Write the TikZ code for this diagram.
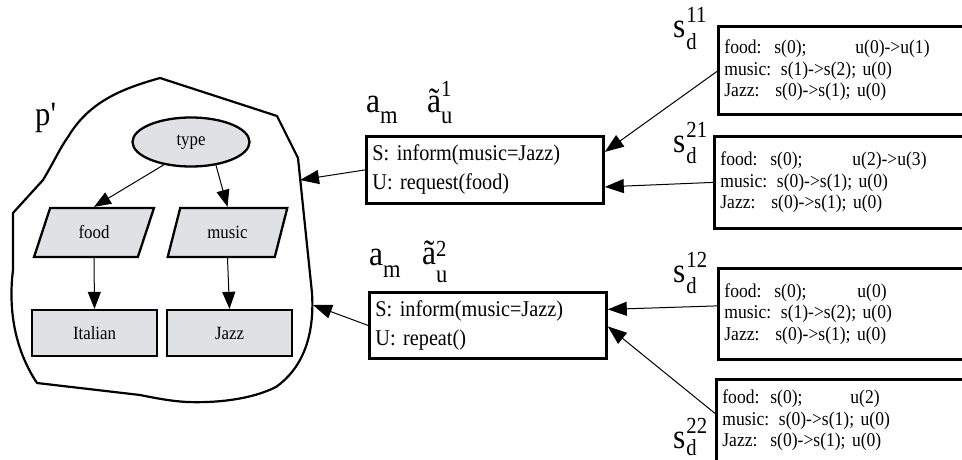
\documentclass[tikz,border=0pt]{standalone}
\usepackage{fontspec}
\setmainfont{Liberation Serif}[FakeStretch=0.9]
\newfontfamily\pfont{Liberation Serif}[FakeStretch=0.9]
\usetikzlibrary{arrows.meta,shapes.geometric}
\definecolor{fillgray}{RGB}{224,225,228}
\newcommand\lblbig{\fontsize{35}{35}\selectfont}
\newcommand\lblscr{\fontsize{23}{23}\selectfont}
\newcommand\lblsub{\fontsize{25}{25}\selectfont}
\tikzset{
  conn/.style={line width=1pt, -{Triangle[length=19pt,width=14pt]}},
  iconn/.style={line width=1pt, -{Triangle[length=17pt,width=13pt]}},
  bigbox/.style={draw, line width=2.8pt, rectangle, anchor=north west, inner xsep=6pt, inner ysep=0pt,
    text width=225pt, minimum width=237pt, align=left, font=\fontsize{22.5}{29}\selectfont},
  sbox/.style={draw, line width=2.8pt, rectangle, anchor=north west, inner xsep=6pt, inner ysep=0pt,
    text width=280pt, align=left, font=\fontsize{19.5}{21.5}\selectfont},
  gshape/.style={draw, line width=2.3pt, fill=fillgray, inner sep=0pt, font=\fontsize{18.7}{20}\selectfont},
  lbl/.style={anchor=base west, inner sep=0pt, font=\lblbig},
  blob/.style={line width=2.2pt, line join=round},
}
\begin{document}
\begin{tikzpicture}[x=1pt,y=-1pt]
\useasboundingbox (0,0) rectangle (962,460);
% blob
\draw[blob] (160,78) -- (277,116) -- (298,158) -- (312,293)
  .. controls (315,340) and (300,370) .. (276,387)
  .. controls (250,400) and (215,403) .. (187,402)
  .. controls (170,401) and (155,398) .. (140,395)
  -- (37,383)
  .. controls (15,350) and (8,310) .. (13,270)
  -- (13,213) -- (43,180)
  .. controls (55,160) and (60,148) .. (68,137)
  .. controls (90,100) and (125,88) .. (160,78) -- cycle;
\coordinate (blobin1) at (300,180);
\coordinate (blobin2) at (313,305);
\node[anchor=base west, inner sep=0pt, font=\fontsize{34}{34}\pfont] (pp) at (35,125) {p'};
% inner graph
\node[gshape, ellipse, minimum width=117pt, minimum height=49pt] (type) at (191,142) {type};
\node[gshape, trapezium, trapezium left angle=67, trapezium right angle=113, trapezium stretches=true,
  minimum width=120pt, minimum height=49pt] (food) at (94,232.5) {food};
\node[gshape, trapezium, trapezium left angle=67, trapezium right angle=113, trapezium stretches=true,
  minimum width=120pt, minimum height=49pt] (music) at (227.5,232.5) {music};
\node[gshape, rectangle, minimum width=125pt, minimum height=46pt] (italian) at (94.5,333) {Italian};
\node[gshape, rectangle, minimum width=125pt, minimum height=46pt] (jazz) at (229.5,333) {Jazz};
\draw[iconn] (type.220) -- (food.north);
\draw[iconn] (type.317) -- (music.north);
\draw[iconn] (food.south) -- (italian.north);
\draw[iconn] (music.south) -- (jazz.north);
% middle boxes
\node[bigbox, minimum height=67pt] (box1) at (365,135) {S: inform(music=Jazz)\\U: request(food)};
\node[bigbox, minimum height=66pt] (box2) at (368,291) {S: inform(music=Jazz)\\U: repeat()};
\node[lbl] (am1) at (366,113) {a\raisebox{-10pt}{\lblsub m}};
\node[lbl] (au1) at (427,113) {ã\rlap{\raisebox{-10pt}{\lblsub u}}\raisebox{16pt}{\lblscr 1}};
\node[lbl] (am2) at (369,265) {a\raisebox{-12pt}{\lblsub m}};
\node[lbl] (au2) at (422,264) {ã\rlap{\raisebox{-18pt}{\lblsub u}}\raisebox{8pt}{\lblscr 2}};
\draw[conn] (box1.west) -- (blobin1);
\draw[conn] (box2.west) -- (blobin2);
% right boxes
\node[sbox, minimum height=88pt] (s11) at (717,25) {\makebox[50pt][l]{food:}\makebox[81pt][l]{s(0);}u(0)->u(1)\\music: s(1)->s(2); u(0)\\\makebox[51pt][l]{Jazz:}s(0)->s(1); u(0)};
\node[sbox, minimum height=92pt] (s21) at (713,135) {\makebox[50pt][l]{food:}\makebox[82pt][l]{s(0);}u(2)->u(3)\\music: s(0)->s(1); u(0)\\\makebox[51pt][l]{Jazz:}s(0)->s(1); u(0)};
\node[sbox, minimum height=91pt] (s12) at (717,267) {\makebox[50pt][l]{food:}\makebox[83pt][l]{s(0);}u(0)\\music: s(1)->s(2); u(0)\\\makebox[51pt][l]{Jazz:}s(0)->s(1); u(0)};
\node[sbox, minimum height=82pt] (s22) at (715,378) {\makebox[48pt][l]{food:}\makebox[80pt][l]{s(0);}u(2)\\music: s(0)->s(1); u(0)\\\makebox[48pt][l]{Jazz:}s(0)->s(1); u(0)};
\node[lbl] (sd11) at (673,38) {s\kern1pt\rlap{\raisebox{-12pt}{\lblscr d}}\raisebox{15pt}{\lblscr 11}};
\node[lbl] (sd21) at (673,153) {s\kern1pt\rlap{\raisebox{-10pt}{\lblscr d}}\raisebox{15pt}{\lblscr 21}};
\node[lbl] (sd12) at (673,282) {s\kern1pt\rlap{\raisebox{-11pt}{\lblscr d}}\raisebox{15pt}{\lblscr 12}};
\node[lbl] (sd22) at (673,448) {s\kern1pt\rlap{\raisebox{-7pt}{\lblscr d}}\raisebox{15pt}{\lblscr 22}};
\draw[conn] ([yshift=-1pt]s11.west) -- ([yshift=18pt]box1.east);
\draw[conn] (s21.west) -- ([yshift=-17pt]box1.east);
\draw[conn] ([yshift=8pt]s12.west) -- ([yshift=16pt]box2.east);
\draw[conn] ([yshift=7pt]s22.west) -- ([yshift=-1pt]box2.east);
\end{tikzpicture}
\end{document}
